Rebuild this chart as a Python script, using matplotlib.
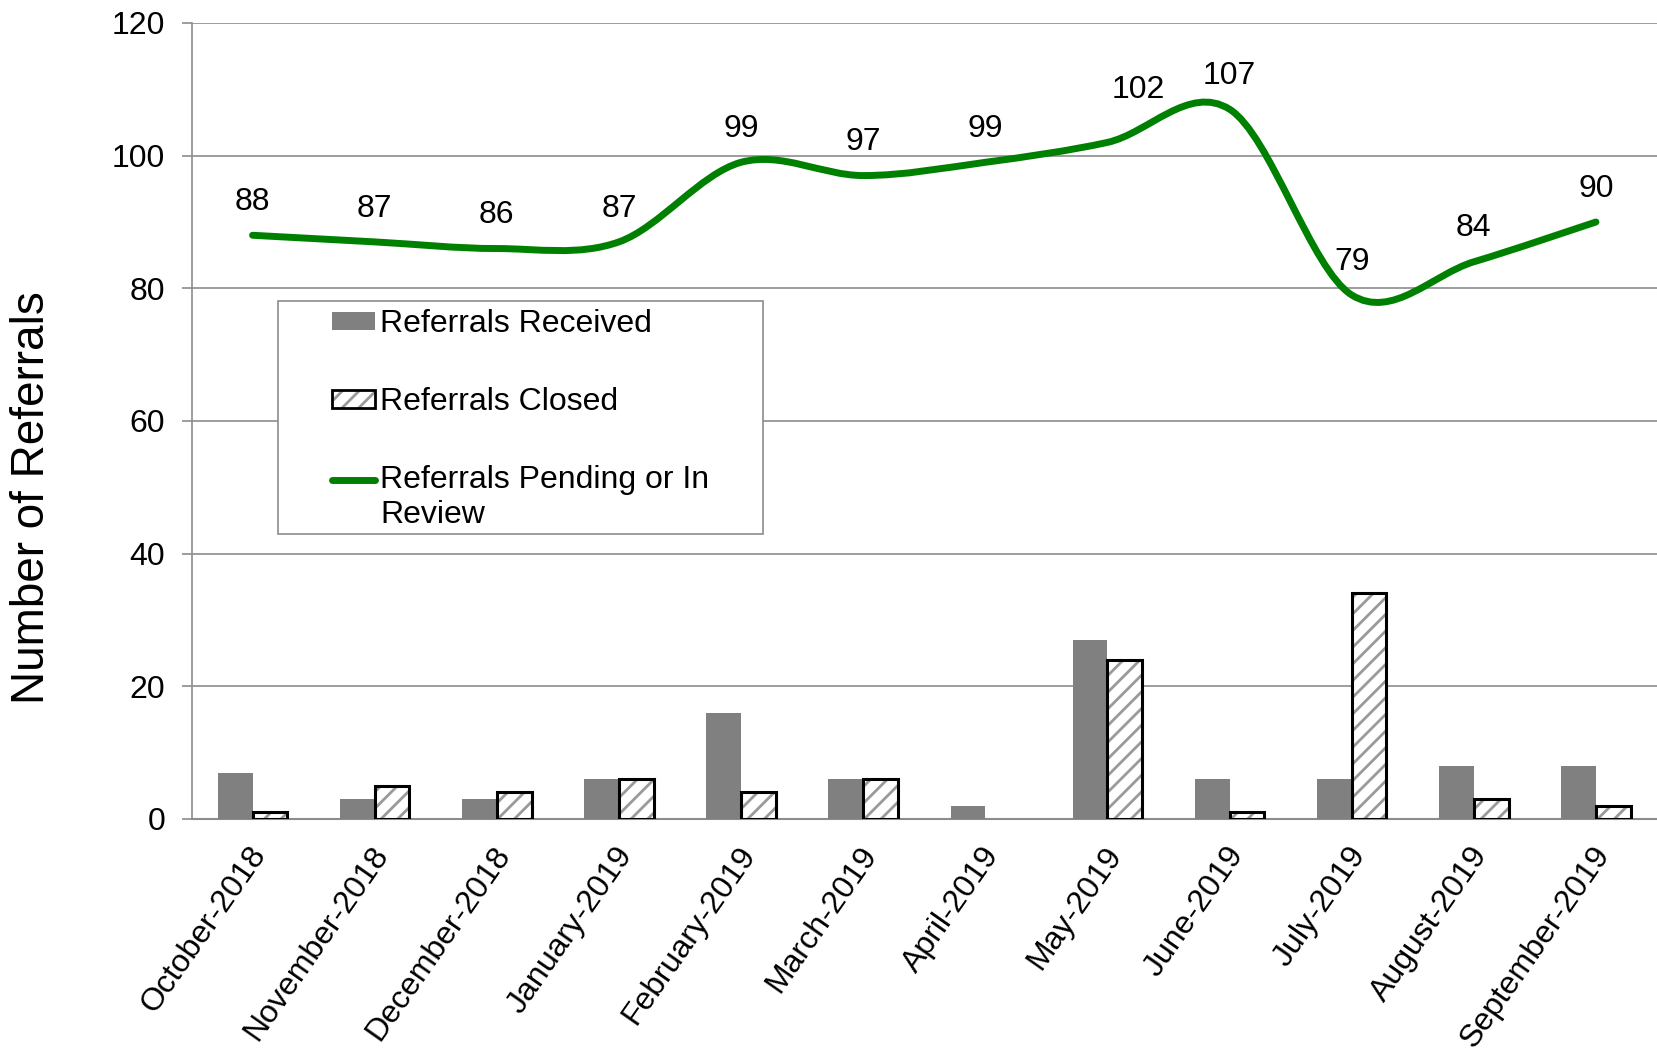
import numpy as np
import matplotlib
matplotlib.use("Agg")
import matplotlib.pyplot as plt
from matplotlib.path import Path
from matplotlib.patches import PathPatch, Patch, Rectangle
from matplotlib.lines import Line2D
from matplotlib.legend_handler import HandlerLine2D
import matplotlib.transforms as mtransforms

months = ["October-2018", "November-2018", "December-2018", "January-2019",
          "February-2019", "March-2019", "April-2019", "May-2019",
          "June-2019", "July-2019", "August-2019", "September-2019"]
received = [7, 3, 3, 6, 16, 6, 2, 27, 6, 6, 8, 8]
closed = [1, 5, 4, 6, 4, 6, 0, 24, 1, 34, 3, 2]
pending = [88, 87, 86, 87, 99, 97, 99, 102, 107, 79, 84, 90]
y_ticks = [0, 20, 40, 60, 80, 100, 120]

plt.rcParams['font.family'] = ['Liberation Sans', 'DejaVu Sans']
plt.rcParams['hatch.linewidth'] = 2.0

FS = 23
W, H = 1657, 1053
fig = plt.figure(figsize=(W / 100, H / 100), dpi=100)
ax = fig.add_axes([191.5 / W, 1 - 819 / H, (W - 191.5) / W, (819 - 23) / H])

x = np.arange(len(months))
bw = 0.285
gray = '#808080'
hatch_gray = '#9a9a9a'

ax.bar(x - bw / 2, received, width=bw, color=gray, zorder=3)
ax.bar(x + bw / 2, closed, width=bw, color='white', edgecolor=hatch_gray,
       hatch='//', linewidth=0, zorder=3)
for xi, c in zip(x, closed):
    if c > 0:
        ax.bar(xi + bw / 2, c, width=bw, fill=False, edgecolor='black',
               linewidth=2.2, zorder=4)

# smoothed line (Catmull-Rom style Bezier, as in spreadsheet smoothing)
pts = np.column_stack([x, np.array(pending, dtype=float)])
n = len(pts)
verts = [tuple(pts[0])]
codes = [Path.MOVETO]
for i in range(n - 1):
    p0 = pts[max(i - 1, 0)]
    p1 = pts[i]
    p2 = pts[i + 1]
    p3 = pts[min(i + 2, n - 1)]
    c1 = p1 + (p2 - p0) / 6.0
    c2 = p2 - (p3 - p1) / 6.0
    verts += [tuple(c1), tuple(c2), tuple(p2)]
    codes += [Path.CURVE4] * 3
line_color = '#008000'
LW = 5.0
ax.add_patch(PathPatch(Path(verts, codes), facecolor='none', edgecolor=line_color,
                       linewidth=LW, capstyle='round', zorder=5))

label_offsets = {7: (22, 38)}
for i, v in enumerate(pending):
    dx, dy = label_offsets.get(i, (0, 24))
    ax.annotate(str(v), (x[i], v), xytext=(dx, dy), textcoords='offset points',
                ha='center', va='center', fontsize=FS, zorder=6)

ax.set_xlim(-0.5, len(months) - 0.5)
ax.set_ylim(0, 120)
ax.set_yticks(y_ticks)
ax.set_yticklabels([str(t) for t in y_ticks], fontsize=FS)
ax.yaxis.grid(True, color='#8c8c8c', linewidth=1.2, zorder=0)
ax.set_axisbelow(True)
ax.tick_params(axis='y', length=7, width=1.2, color='#8c8c8c', pad=12)
ax.tick_params(axis='x', length=0, pad=22)
ax.set_xticks(x)
ax.set_xticklabels(months, fontsize=FS, rotation=55, ha='right', va='center',
                   rotation_mode='anchor')
offset = mtransforms.ScaledTranslation(8 / 100, 0, fig.dpi_scale_trans)
for lab in ax.get_xticklabels():
    lab.set_transform(lab.get_transform() + offset)

for s in ['top', 'right']:
    ax.spines[s].set_visible(False)
ax.spines['left'].set_color('#8c8c8c')
ax.spines['left'].set_linewidth(1.2)
ax.spines['bottom'].set_color('#8c8c8c')
ax.spines['bottom'].set_linewidth(1.5)

fig.text(32 / W, 1 - 498 / H, "Number of Referrals", rotation=90, fontsize=33,
         ha='center', va='center')


class RaisedLine(HandlerLine2D):
    def __init__(self, shift, **kw):
        super().__init__(**kw)
        self.shift = shift

    def create_artists(self, legend, orig_handle, xdescent, ydescent, width,
                       height, fontsize, trans):
        arts = super().create_artists(legend, orig_handle, xdescent, ydescent,
                                      width, height, fontsize, trans)
        for a in arts:
            if isinstance(a, Line2D):
                a.set_ydata(np.asarray(a.get_ydata()) + self.shift * fontsize)
        return arts


# legend
frame = Rectangle((278 / W, 1 - 534 / H), (763 - 278) / W, (534 - 301) / H,
                  transform=fig.transFigure, facecolor='white', edgecolor='#8c8c8c',
                  linewidth=1.2, zorder=10)
fig.patches.append(frame)
h1 = Patch(facecolor=gray)
h2 = (Patch(facecolor='white', edgecolor=hatch_gray, hatch='//', linewidth=0),
      Patch(fill=False, edgecolor='black', linewidth=2.0))
h3 = Line2D([], [], color=line_color, linewidth=LW, solid_capstyle='round')
leg = fig.legend([h1, h2, h3],
                 ["Referrals Received", "Referrals Closed",
                  "Referrals Pending or In\nReview"],
                 loc='upper left', bbox_to_anchor=(332 / W, 1 - 309.5 / H),
                 frameon=False, fontsize=FS, borderpad=0, borderaxespad=0,
                 handlelength=1.35, handleheight=0.5, handletextpad=0.15,
                 labelspacing=1.5,
                 handler_map={h3: RaisedLine(0.6)})
leg.set_zorder(11)

fig.savefig("out.png", dpi=100)
